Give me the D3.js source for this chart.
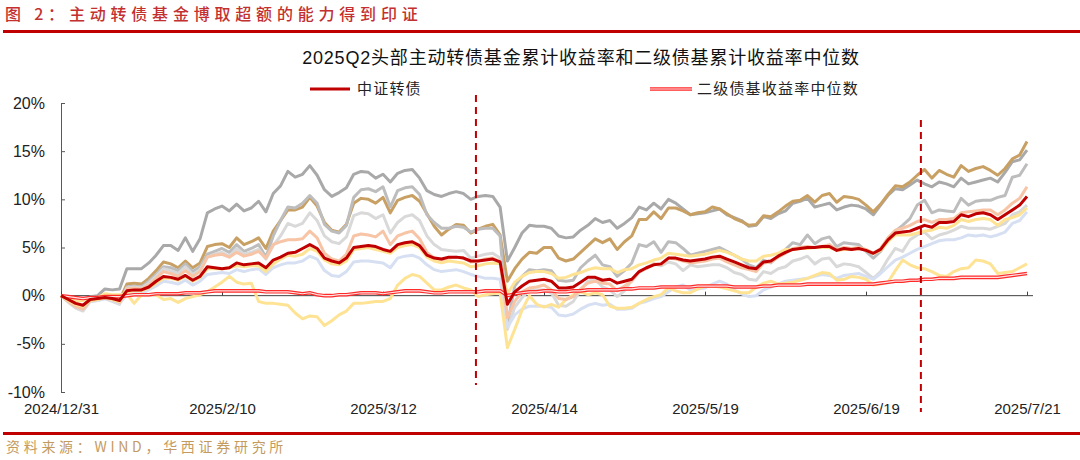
<!DOCTYPE html>
<html><head><meta charset="utf-8">
<script src="https://cdn.jsdelivr.net/npm/d3@7"></script>
<style>body{margin:0;background:#fff;} svg{display:block;}</style>
</head><body>
<svg id="c" width="1080" height="460"></svg>
<script>
// ---- data (cumulative return, %) ; trading days 2024/12/31 .. 2025/7/21 ----
const tickLabels = ["2024/12/31","2025/2/10","2025/3/12","2025/4/14","2025/5/19","2025/6/19","2025/7/21"];
const tickIndex = [0,22,44,66,88,110,132];
const quarterMarks = [56.7, 117.5]; // Q2 start / end markers (day index)
const yTicks = [-10,-5,0,5,10,15,20];

const fundGrayDark = [0,-0.6,-1.1,-1.3,-0.1,0,0.7,0.6,0.7,2.8,2.8,2.8,3.4,4.2,5.2,5.2,4.7,6.0,4.6,5.9,8.6,9.0,9.3,8.8,9.5,8.8,9.1,9.8,8.7,10.6,11.4,12.9,12.3,12.6,
13.5,12.5,11.0,10.3,10.7,11.2,12.6,12.9,12.8,12.2,12.6,11.8,12.7,13.0,13.1,12.2,10.9,10.5,10.3,10.6,10.8,10.6,10.0,10.3,10.4,10.3,9.2,3.6,5.0,6.5,7.3,7.2,7.2,
7.0,6.2,6.0,6.1,6.8,7.3,8.0,7.6,7.8,7.0,7.5,8.1,9.2,8.9,9.6,9.0,10.0,9.6,9.0,8.4,8.5,8.6,8.8,9.0,8.4,8.1,7.8,7.2,7.3,8.2,8.0,8.5,8.8,
9.6,9.8,10.1,9.2,9.4,9.6,8.9,9.2,9.4,9.3,9.0,8.4,9.4,10.4,11.1,11.0,11.5,12.0,11.6,11.3,11.8,11.6,11.3,12.2,11.6,11.8,12.0,12.2,11.8,12.8,13.9,14.1,15.1];

const fundTan = [0,-0.5,-1.0,-1.2,-0.4,-0.3,0.1,-0.2,-0.5,1.2,1.3,1.2,1.8,2.6,3.5,3.3,2.9,3.6,2.9,3.4,5.1,5.3,5.4,5.0,6.0,5.3,5.6,6.0,4.9,6.7,7.8,8.9,8.9,9.2,
10.2,9.3,7.6,6.8,6.6,7.4,9.6,10.1,10.0,9.6,10.2,8.6,9.9,10.2,10.4,9.8,8.5,7.2,6.3,6.9,7.4,7.3,6.5,6.9,7.2,7.4,6.3,1.5,2.8,3.8,4.5,4.4,5.0,
5.0,3.9,3.6,3.8,4.5,5.2,5.9,5.5,5.9,4.8,5.6,6.2,7.9,7.9,8.7,8.0,9.1,9.1,8.8,8.4,8.6,8.7,9.2,9.0,8.5,8.0,7.7,7.3,7.4,8.3,8.2,8.7,9.3,
9.8,9.9,10.4,9.7,10.4,10.6,9.7,10.3,10.2,10.0,9.4,8.7,9.5,10.5,11.4,11.3,11.8,12.5,13.1,12.2,13.0,12.6,12.3,13.5,12.9,13.2,13.4,13.0,12.5,13.2,14.2,14.6,16.0];

const fundGrayMid = [0,-0.6,-1.2,-1.4,-0.5,-0.4,-0.1,-0.4,-0.7,0.9,1.0,0.9,1.5,2.2,3.0,2.9,2.6,3.3,2.5,3.0,4.3,4.6,4.9,4.5,5.3,4.6,4.9,5.3,4.0,6.2,7.8,9.2,9.1,9.6,
10.4,9.6,7.4,6.7,6.5,7.3,10.2,11.0,11.1,10.8,11.3,9.2,10.9,11.2,11.3,10.5,8.4,7.6,7.0,7.0,7.2,7.1,6.6,6.9,7.0,7.0,6.2,-3.0,1.0,2.0,2.7,2.6,2.7,
2.6,1.6,1.5,1.6,2.9,3.6,4.2,3.2,3.0,2.0,2.6,3.4,5.3,5.1,5.6,4.5,5.6,5.5,4.9,4.2,4.4,4.6,4.8,5.0,4.6,4.2,3.8,3.2,2.9,3.7,3.4,4.1,4.8,
5.5,5.3,6.3,5.4,5.9,6.1,5.1,5.5,5.4,5.3,4.6,3.9,4.6,5.8,6.7,7.3,8.0,9.4,9.9,8.6,8.9,8.8,8.7,10.1,9.4,9.8,9.9,9.9,10.2,10.4,12.3,12.5,13.7];

const fundGrayLight = [0,-0.7,-1.3,-1.6,-0.6,-0.5,-0.3,-0.6,-0.9,0.8,0.9,0.8,1.3,2.0,2.8,2.6,2.3,3.0,2.2,2.7,4.0,4.3,4.5,4.1,4.9,4.3,4.5,4.8,3.8,5.2,6.2,7.5,7.2,7.5,
8.6,7.8,6.2,5.6,5.4,6.1,8.3,8.6,8.5,8.0,8.4,6.5,7.6,8.2,8.4,7.8,6.2,5.3,4.8,4.7,4.6,4.7,3.9,4.1,4.3,4.4,3.9,-3.5,-1.2,-0.2,0.6,0.6,0.6,
0.3,-1.0,-1.1,-0.6,0.6,1.5,1.7,0.9,0.6,-0.1,0.5,1.6,2.4,2.9,3.3,3.1,3.5,3.3,2.6,3.2,3.0,3.1,3.2,3.2,2.9,2.4,2.2,1.7,1.6,2.5,2.3,2.8,3.0,
3.6,3.8,4.1,3.3,3.8,3.9,3.0,3.3,3.2,3.0,2.4,1.8,2.5,3.8,4.9,4.6,5.8,6.3,6.6,5.9,6.3,6.5,6.8,7.2,7.0,7.0,7.0,6.9,7.2,7.5,8.4,8.7,9.4];

const fundSalmon = [0,-0.6,-1.1,-1.4,-0.5,-0.4,-0.2,-0.4,-0.7,0.7,0.8,0.7,1.1,1.8,2.5,2.3,2.0,2.6,2.0,2.5,4.0,4.2,4.3,4.0,4.5,4.1,4.3,4.6,3.9,5.3,5.6,5.8,5.8,5.9,
6.7,6.0,4.4,3.8,3.6,4.3,6.2,6.4,6.3,6.1,6.7,5.3,6.2,6.5,6.7,5.9,4.5,3.9,3.7,3.9,4.0,3.9,3.5,3.6,3.8,3.9,3.5,-2.3,-0.6,0.4,0.8,0.9,1.1,
0.6,-0.3,-0.4,-0.1,0.7,1.3,1.5,1.3,1.2,0.5,1.0,1.5,2.5,2.8,3.3,3.2,3.9,3.8,3.6,3.4,3.5,3.6,3.8,3.9,3.5,3.2,2.9,2.7,2.5,3.4,3.5,4.0,4.4,
4.9,5.0,5.1,5.0,5.1,5.3,4.8,5.0,4.9,5.0,4.8,4.4,4.9,6.0,6.8,7.0,7.3,7.7,7.9,7.6,7.9,7.9,8.0,8.6,8.7,8.8,8.9,8.9,8.4,8.9,9.6,10.1,11.3];

const fundBlue = [0,-0.5,-1.0,-1.2,-0.6,-0.5,-0.3,-0.5,-0.8,0.1,0.2,0.2,0.6,1.0,1.5,1.4,1.2,1.6,1.1,1.5,2.2,2.3,2.4,2.3,2.7,2.5,2.7,2.8,2.2,2.9,3.2,3.4,3.4,3.6,
4.1,3.8,2.6,2.1,2.0,2.5,3.5,3.6,3.6,3.5,3.4,2.9,3.9,4.1,4.2,3.9,3.2,2.7,2.5,2.6,2.7,2.5,2.2,2.0,1.8,1.8,1.7,-3.3,-2.0,-1.4,-1.1,-1.1,-1.1,
-1.2,-2.0,-2.1,-1.9,-1.4,-1.0,-0.8,-1.0,-0.9,-1.4,-1.4,-1.3,-0.8,-0.6,-0.3,-0.1,0.4,0.9,1.1,0.6,0.7,0.8,1.2,1.5,1.2,0.6,0.2,-0.1,0.0,0.6,0.9,1.2,1.5,
1.6,1.7,1.8,2.0,2.2,2.1,1.8,2.1,2.2,2.3,2.0,1.7,2.3,3.0,3.7,4.0,4.4,4.8,5.1,5.4,5.7,5.8,5.8,6.0,6.3,6.2,6.3,6.1,6.3,6.6,7.5,7.8,8.7];

const fundYellowLow = [0,-0.3,-0.6,-0.5,-0.2,-0.2,0.2,0.1,0.1,0.2,-0.8,0.1,0.1,0.1,-0.4,-0.3,-0.7,-0.3,-0.1,0.1,0.4,0.9,1.4,2.0,1.4,1.2,1.3,-0.6,-0.8,-0.8,-0.9,-1.0,-1.8,-2.4,
-2.1,-2.2,-3.1,-2.6,-2.0,-1.6,-0.8,-0.8,-0.7,-0.6,-0.6,-0.3,1.1,1.8,2.2,2.0,1.3,0.6,0.6,0.9,1.1,0.8,0.6,-0.1,0.1,0.2,0.3,-5.4,-3.5,-1.5,0.0,-0.9,-1.2,
-0.9,-1.2,-0.4,0.1,0.4,0.1,0.3,0.1,-1.1,-1.3,-1.3,-1.2,-0.8,-0.4,-0.1,0.1,0.8,0.5,0.3,0.3,0.7,1.0,1.0,0.9,0.7,0.5,0.3,0.3,0.9,1.3,1.5,1.2,1.3,
1.4,1.6,1.8,2.1,2.4,2.3,1.6,1.7,2.0,1.9,1.7,1.1,1.2,1.4,2.6,3.7,3.2,2.9,2.8,2.5,2.1,2.0,2.5,2.8,2.9,3.7,3.6,3.3,2.3,2.4,2.5,2.9,3.3];

const fundYellow = [0,-0.5,-0.9,-1.1,-0.5,-0.4,-0.2,-0.4,-0.6,0.4,0.5,0.5,0.8,1.3,1.8,1.8,1.6,2.0,1.5,1.9,2.8,2.8,2.8,2.9,3.1,3.0,3.1,3.1,2.5,3.3,3.8,4.2,4.1,4.3,
4.9,4.6,3.7,3.3,3.2,3.6,4.8,4.9,5.0,4.8,4.6,4.4,5.0,5.2,5.3,5.0,4.0,3.6,3.4,3.6,3.5,3.4,3.0,3.1,3.3,3.4,3.3,0.2,1.4,2.0,2.4,2.5,2.5,
2.3,1.8,1.9,2.2,2.4,2.7,2.9,2.8,2.8,2.4,2.7,2.8,3.2,3.4,3.7,3.9,4.4,4.3,4.2,4.1,4.2,4.3,4.5,4.7,4.5,4.2,3.8,3.6,3.6,4.1,4.2,4.4,4.8,
4.8,4.9,4.9,5.0,5.0,5.0,4.7,4.8,4.8,4.9,4.7,4.4,4.7,5.6,6.3,6.3,6.3,6.5,6.7,6.8,7.1,7.0,7.3,7.9,7.7,7.9,8.0,7.9,7.3,7.9,8.1,8.4,9.1];

const cbIndex = [0,-0.4,-0.8,-1.0,-0.4,-0.3,-0.2,-0.3,-0.5,0.5,0.6,0.6,0.9,1.5,2.0,1.9,1.7,2.1,1.6,2.0,3.0,2.9,2.8,2.9,3.4,3.2,3.3,3.4,2.9,3.7,4.0,4.4,4.5,4.9,
5.3,4.9,3.9,3.6,3.4,3.9,5.0,5.1,5.2,5.1,4.8,4.6,5.3,5.5,5.6,5.2,4.2,3.9,3.8,4.0,4.0,3.9,3.6,3.6,3.7,3.8,3.5,-0.9,0.4,1.0,1.5,1.6,1.7,
1.5,0.8,0.8,0.9,1.4,1.9,1.9,1.6,1.7,1.3,1.5,1.7,2.5,2.9,3.2,3.3,3.9,3.9,3.7,3.6,3.7,3.8,4.0,4.1,3.8,3.5,3.2,2.9,2.8,3.5,3.6,4.1,4.5,
4.8,4.9,5.0,5.0,5.1,5.1,4.7,4.9,4.8,4.9,4.7,4.4,4.8,5.8,6.5,6.6,6.7,7.0,7.3,7.1,7.6,7.6,7.7,8.4,8.2,8.5,8.6,8.4,7.9,8.4,8.9,9.4,10.3];

const bondMedian = [0,-0.1,-0.2,-0.3,-0.2,-0.2,-0.1,-0.1,-0.1,0.0,0.1,0.1,0.1,0.2,0.2,0.2,0.2,0.3,0.3,0.3,0.4,0.5,0.5,0.5,0.5,0.5,0.5,0.5,0.4,0.4,0.4,0.4,0.3,0.2,
0.3,0.1,0.0,0.0,0.1,0.1,0.2,0.3,0.3,0.3,0.2,0.3,0.4,0.5,0.5,0.5,0.4,0.3,0.3,0.4,0.4,0.4,0.4,0.4,0.5,0.5,0.5,0.0,0.2,0.3,0.4,0.4,0.5,
0.5,0.4,0.4,0.5,0.5,0.6,0.6,0.6,0.6,0.6,0.7,0.7,0.8,0.8,0.8,0.9,0.9,0.9,0.9,0.9,1.0,1.0,1.0,1.0,1.0,0.9,0.9,0.9,0.9,1.0,1.0,1.1,1.1,
1.1,1.1,1.2,1.2,1.2,1.2,1.2,1.2,1.2,1.2,1.2,1.2,1.3,1.4,1.5,1.5,1.6,1.6,1.7,1.7,1.8,1.8,1.8,1.9,1.9,1.9,1.9,1.9,1.9,2.0,2.1,2.2,2.3];

// ---- drawing ----
const svg = d3.select("#c");
const CJK = "'Noto Sans CJK SC','Liberation Sans',sans-serif";
const LAT = "'Liberation Sans','Noto Sans CJK SC',sans-serif";

const x = d3.scaleLinear().domain([0, 132]).range([61, 1027]);
const y = d3.scaleLinear().domain([-10, 20]).range([392, 103]);

// header
svg.append("text").attr("x", 5).attr("y", 20)
  .attr("font-family", CJK).attr("font-size", 16).attr("font-weight", 500).attr("letter-spacing", 4.8)
  .attr("fill", "#C3302F").text("图 2：主动转债基金博取超额的能力得到印证");
svg.append("rect").attr("x", 3).attr("y", 30).attr("width", 1077).attr("height", 3).attr("fill", "#C00000");

// chart title
svg.append("text").attr("x", 581).attr("y", 64).attr("text-anchor", "middle")
  .attr("font-family", LAT).attr("font-size", 18).attr("letter-spacing", 0.8).attr("fill", "#111")
  .text("2025Q2头部主动转债基金累计收益率和二级债基累计收益率中位数");

// y axis
const gy = svg.append("g").attr("transform", "translate(61,0)")
  .call(d3.axisLeft(y).tickValues(yTicks).tickFormat(d => d + "%").tickSizeInner(-4).tickSizeOuter(0).tickPadding(16));
gy.select(".domain").attr("stroke", "#595959");
gy.selectAll(".tick line").attr("stroke", "#595959");
gy.selectAll("text").attr("font-family", LAT).attr("font-size", 16).attr("fill", "#222");

// x axis line at zero with upward ticks
const gx = svg.append("g").attr("transform", `translate(0,${y(0)})`)
  .call(d3.axisBottom(x).tickValues(tickIndex).tickFormat("").tickSizeInner(-4).tickSizeOuter(0));
gx.select(".domain").remove();
gx.append("line").attr("x1", 61).attr("x2", 1033).attr("y1", 0).attr("y2", 0).attr("stroke", "#404040");
gx.selectAll(".tick line").attr("stroke", "#404040");

// x labels at bottom
const gl = svg.append("g").attr("transform", "translate(0,395)")
  .call(d3.axisBottom(x).tickValues(tickIndex).tickFormat((d, i) => tickLabels[i]).tickSize(0).tickPadding(8));
gl.select(".domain").remove();
gl.selectAll("text").attr("font-family", LAT).attr("font-size", 15).attr("fill", "#222");

// series
const line = d3.line().x((d, i) => x(i)).y(d => y(d));
const funds = [
  {v: fundGrayDark,  c: "#A9A9A9"},
  {v: fundTan,       c: "#C9A063"},
  {v: fundGrayMid,   c: "#BDBDBD"},
  {v: fundGrayLight, c: "#D9D9D9"},
  {v: fundBlue,      c: "#D6E0F2"},
  {v: fundYellowLow, c: "#FFE394"},
  {v: fundSalmon,    c: "#F7C4A6"},
  {v: fundYellow,    c: "#FFE394"}
];
svg.append("g").selectAll("path").data(funds).join("path")
  .attr("d", d => line(d.v)).attr("fill", "none").attr("stroke", d => d.c)
  .attr("stroke-width", 3).attr("stroke-linejoin", "round");

// bond median (double line)
svg.append("path").attr("d", line(bondMedian)).attr("fill", "none").attr("stroke", "#FF2A2A").attr("stroke-width", 3.6);
svg.append("path").attr("d", line(bondMedian)).attr("fill", "none").attr("stroke", "#FFE2E2").attr("stroke-width", 1.2);
// convertible index
svg.append("path").attr("d", line(cbIndex)).attr("fill", "none").attr("stroke", "#C00000").attr("stroke-width", 3).attr("stroke-linejoin", "round");

// quarter markers
const markerY = [[95, 385], [120, 412]];
svg.append("g").selectAll("line").data(quarterMarks).join("line")
  .attr("x1", d => x(d)).attr("x2", d => x(d))
  .attr("y1", (d, i) => markerY[i][0]).attr("y2", (d, i) => markerY[i][1])
  .attr("stroke", "#C00000").attr("stroke-width", 2).attr("stroke-dasharray", "7,5");

// legend
const lg = svg.append("g");
lg.append("line").attr("x1", 310).attr("x2", 350).attr("y1", 89).attr("y2", 89).attr("stroke", "#C00000").attr("stroke-width", 3);
lg.append("text").attr("x", 357).attr("y", 94).attr("font-family", CJK).attr("font-size", 15).attr("letter-spacing", 1.2).attr("fill", "#222").text("中证转债");
lg.append("line").attr("x1", 650).attr("x2", 692).attr("y1", 89).attr("y2", 89).attr("stroke", "#FF2A2A").attr("stroke-width", 3.6);
lg.append("line").attr("x1", 650).attr("x2", 692).attr("y1", 89).attr("y2", 89).attr("stroke", "#FFE2E2").attr("stroke-width", 1.2);
lg.append("text").attr("x", 697).attr("y", 94).attr("font-family", CJK).attr("font-size", 15).attr("letter-spacing", 1.2).attr("fill", "#222").text("二级债基收益率中位数");

// footer
svg.append("rect").attr("x", 3).attr("y", 432).attr("width", 1077).attr("height", 3).attr("fill", "#C00000");
svg.append("text").attr("x", 6).attr("y", 452)
  .attr("font-family", CJK).attr("font-size", 14).attr("letter-spacing", 3.7)
  .attr("fill", "#C49B5E").text("资料来源：WIND，华西证券研究所");
</script>
</body></html>
